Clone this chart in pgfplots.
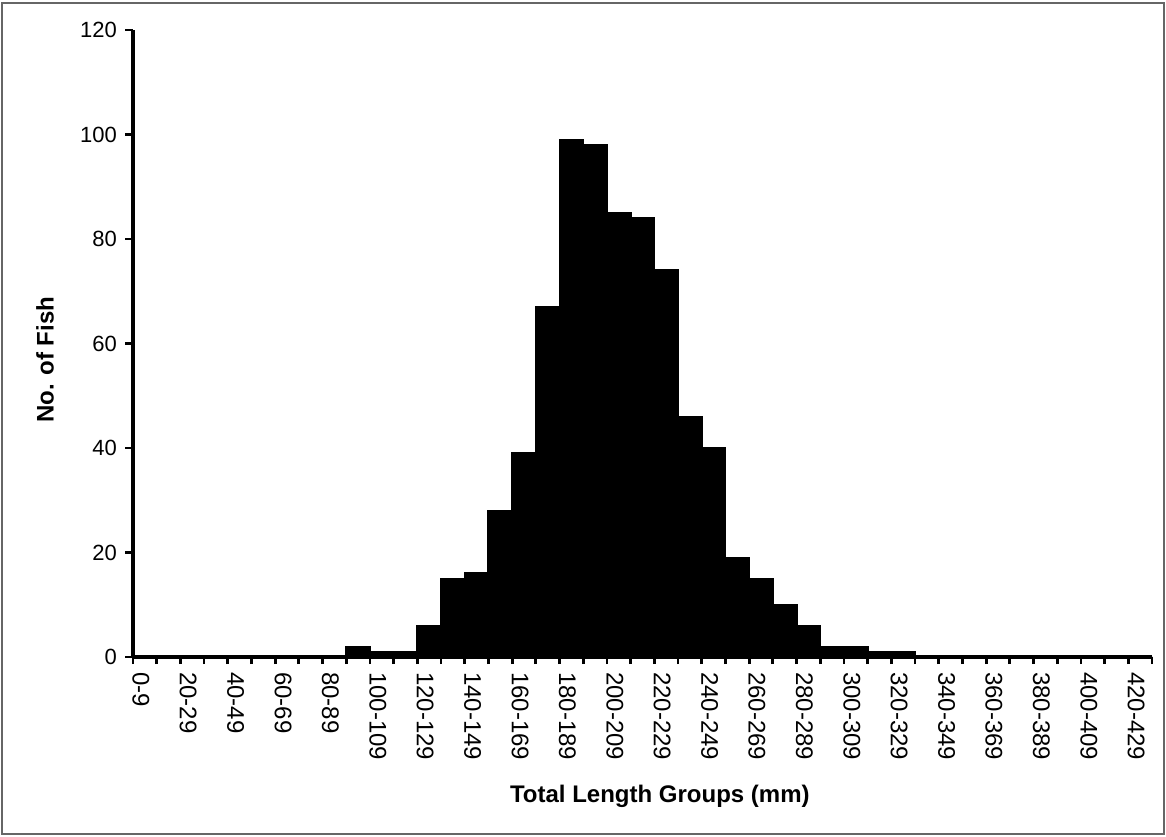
\documentclass[border=0pt]{standalone}
\usepackage{pgfplots}
\pgfplotsset{compat=1.18}
\usepackage{fontspec}
\setmainfont{Liberation Sans}
\newcommand{\ytickfont}{\fontsize{11}{13}\selectfont}
\newcommand{\xtickfont}{\fontsize{12}{14}\selectfont}
\begin{document}
\begin{tikzpicture}
\useasboundingbox (0,0) rectangle (583pt,418pt);
\draw[black!60, line width=0.6pt] (1pt,1pt) rectangle (582pt,416.5pt);
\begin{axis}[
  at={(66.5pt,89.5pt)}, anchor=south west,
  scale only axis, width=509.5pt, height=313.5pt,
  xmin=-0.5, xmax=42.5, ymin=0, ymax=120,
  axis x line*=bottom, axis y line*=left,
  axis line style={line width=1.6pt, -},
  tick align=outside,
  ytick={0,20,...,120},
  xtick={0,2,...,42},
  xticklabels={0-9,20-29,40-49,60-69,80-89,100-109,120-129,140-149,160-169,180-189,200-209,220-229,240-249,260-269,280-289,300-309,320-329,340-349,360-369,380-389,400-409,420-429},
  minor xtick={-0.5,0.5,...,42.5},
  major x tick style={draw=none},
  minor x tick style={line width=1.4pt, black},
  minor tick length=3.5pt,
  major tick length=4pt,
  ytick style={line width=1.4pt, black},
  /pgf/number format/assume math mode=true,
  xticklabel style={font=\xtickfont, rotate=-90, anchor=west, yshift=-2pt},
  yticklabel style={font=\ytickfont, xshift=-0.5pt},
  xlabel={Total Length Groups (mm)},
  ylabel={No. of Fish},
  label style={font=\fontsize{12}{14}\selectfont\bfseries},
  xlabel style={at={(axis description cs:0.517,-0.223)}, anchor=center},
  ylabel style={at={(axis description cs:-0.0864,0.474)}, anchor=center},
  clip=false,
]
\addplot[ybar, bar width=1, bar shift=0, fill=black, draw=black, line width=1pt] coordinates {
(0,0) (1,0) (2,0) (3,0) (4,0) (5,0) (6,0) (7,0) (8,0)
(9,2) (10,1) (11,1) (12,6) (13,15) (14,16) (15,28) (16,39) (17,67)
(18,99) (19,98) (20,85) (21,84) (22,74) (23,46) (24,40) (25,19) (26,15)
(27,10) (28,6) (29,2) (30,2) (31,1) (32,1)
(33,0) (34,0) (35,0) (36,0) (37,0) (38,0) (39,0) (40,0) (41,0) (42,0)
};
\end{axis}
\end{tikzpicture}
\end{document}
